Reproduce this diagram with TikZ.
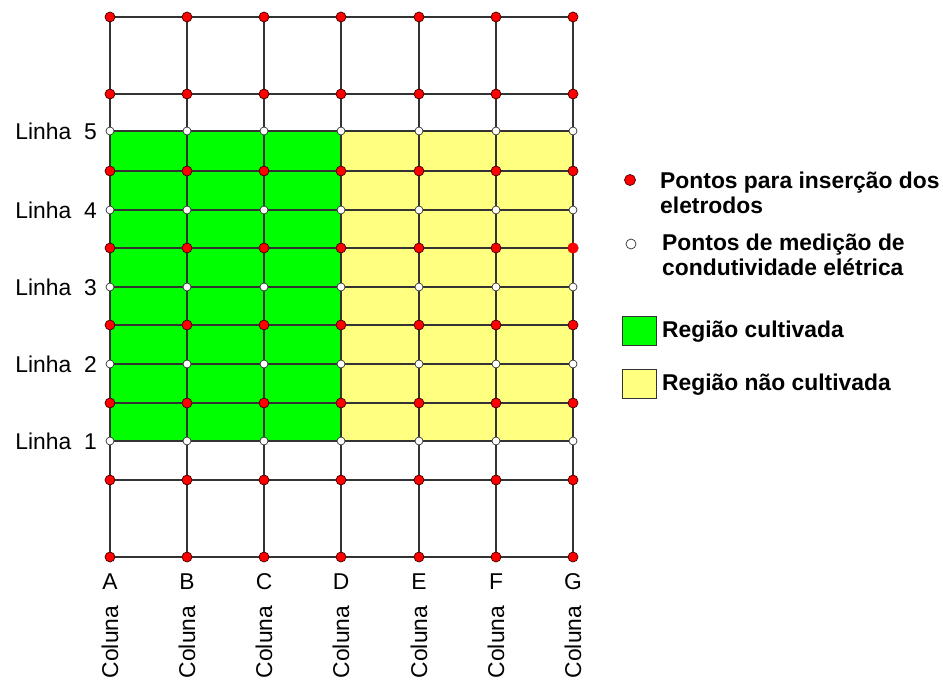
\documentclass[tikz,border=0pt]{standalone}
\usepackage{fontspec}
\setmainfont{Liberation Sans}
\definecolor{campo}{HTML}{00FF00}
\definecolor{palha}{HTML}{FFFF80}
\definecolor{ponto}{HTML}{FF0000}
\definecolor{grade}{HTML}{333333}
\tikzset{
  eletrodo/.style={fill=ponto,draw=black!75!red,line width=0.6pt},
  medicao/.style={fill=white,draw=black!80,line width=0.6pt},
  rotulo/.style={font=\fontsize{19.5}{21}\selectfont,inner sep=0pt},
  legenda/.style={rotulo,font=\fontsize{19.5}{21}\selectfont\bfseries,align=left,anchor=west},
}
\begin{document}
\begin{tikzpicture}[x=0.03cm,y=-0.03cm]
  \useasboundingbox (0,0) rectangle (943,682);
  % regioes
  \fill[campo] (110,131) rectangle (341,441);
  \fill[palha] (341,131) rectangle (573,441);
  % grade
  \foreach \x in {110,187,264,341,419,496,573}
    \draw[grade,line width=1.3pt] (\x,17) -- (\x,557);
  \foreach \y in {17,94,131,171,210,248,287,325,364,403,441,480,557}
    \draw[grade,line width=1.3pt] (110,\y) -- (573,\y);
  % pontos
  \foreach \x in {110,187,264,341,419,496,573}{
    \foreach \y in {17,94,171,248,325,403,480,557}
      \filldraw[eletrodo] (\x,\y) circle[radius=5];
    \foreach \y in {131,210,287,364,441}
      \filldraw[medicao] (\x,\y) circle[radius=4];
  }
  \fill[ponto] (573,248) circle[radius=5.5];
  % rotulos
  \foreach \y/\n in {131/5,210/4,287/3,364/2,441/1}
    \node[rotulo,anchor=east] (linha\n) at (97,\y) {Linha\ \ \n};
  \foreach \x/\c in {110/A,187/B,264/C,341/D,419/E,496/F,573/G}{
    \node[rotulo] (col\c) at (\x,582) {\c};
    \node[rotulo,rotate=90] (nome\c) at (\x,642) {Coluna};
  }
  % legenda
  \filldraw[eletrodo] (630,180) circle[radius=5.5];
  \node[legenda] (leg1) at (660,193) {Pontos para inserção dos\\eletrodos};
  \filldraw[medicao] (631,244) circle[radius=5];
  \node[legenda] (leg2) at (662,255) {Pontos de medição de\\condutividade elétrica};
  \filldraw[fill=campo,draw=grade,line width=0.8pt] (622,316) rectangle (656,345);
  \node[legenda] (leg3) at (662,332) {Região cultivada};
  \filldraw[fill=palha,draw=grade,line width=0.8pt] (622,369) rectangle (656,398);
  \node[legenda] (leg4) at (662,385) {Região não cultivada};
\end{tikzpicture}
\end{document}
